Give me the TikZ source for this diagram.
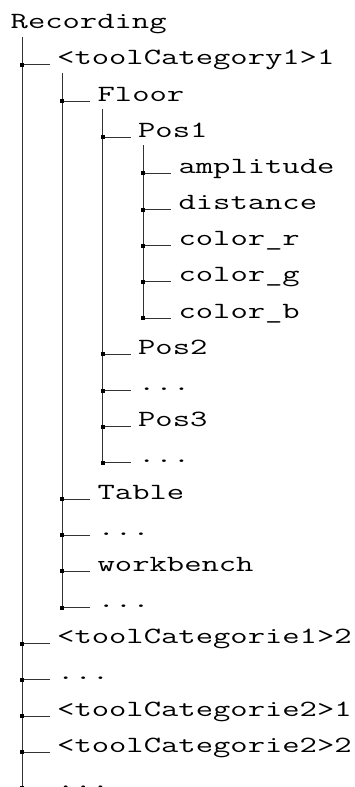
\documentclass[tikz,border=0pt]{standalone}
\usepackage{fontspec}
\usepackage{graphicx}
\newcommand\treefont{\ttfamily\fontsize{23.2}{26}\selectfont}
\newcommand\wide[1]{\scalebox{1.45}[1]{#1}}
\tikzset{
  lbl/.style={anchor=base west, inner sep=0pt, font=\treefont},
  branch/.style={line width=1pt, draw=black!80},
  knot/.style={rectangle, fill=black, minimum size=4pt, inner sep=0pt}
}
\begin{document}
\begin{tikzpicture}[x=1pt, y=-1pt]
\useasboundingbox (0,0) rectangle (355,787);
\fill[white] (0,0) rectangle (355,787);

% root
\node[lbl] (n0) at (10.5,28.8) {\wide{Recording}};

% entries: row / depth / text
\foreach \k/\l/\t in {
  1/0/{<toolCategory1>1},
  2/1/{Floor},
  3/2/{Pos1},
  4/3/{amplitude},
  5/3/{distance},
  6/3/{color\_r},
  7/3/{color\_g},
  8/3/{color\_b},
  9/2/{Pos2},
  10/2/{...},
  11/2/{Pos3},
  12/2/{...},
  13/1/{Table},
  14/1/{...},
  15/1/{workbench},
  16/1/{...},
  17/0/{<toolCategorie1>2},
  18/0/{...},
  19/0/{<toolCategorie2>1},
  20/0/{<toolCategorie2>2},
  21/0/{...}}{
  \pgfmathsetmacro\yy{28.8+36.17*\k}
  \pgfmathsetmacro\xx{22+40.45*\l}
  \coordinate (j\k) at (\xx,\yy);
  \node[lbl] (n\k) at (\xx+35,\yy) {\wide{\t}};
  \draw[branch] (j\k) -- ([xshift=-7pt]n\k.base west);
}

% vertical stems: from below a parent down to its last child
\foreach \p/\c in {0/21, 1/16, 2/12, 3/8}{
  \coordinate (s\p) at ([yshift=-8pt]n\p.base -| j\c);
  \draw[branch] (s\p) -- (j\c);
}

% junction knots
\foreach \k in {1,...,21}{
  \node[knot] (k\k) at (j\k) {};
}
\end{tikzpicture}
\end{document}
